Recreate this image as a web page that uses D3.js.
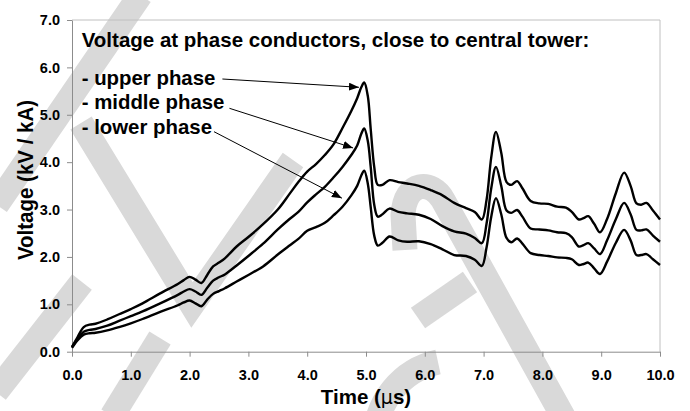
<!DOCTYPE html>
<html><head><meta charset="utf-8">
<script src="https://cdn.jsdelivr.net/npm/d3@7"></script>
<style>
body{margin:0;background:#fff}
svg{display:block}
text{font-family:"Liberation Sans",Arial,sans-serif;font-weight:bold;fill:#000}
</style>
</head><body>
<svg id="c" width="690" height="411"></svg>
<script>
// ---- data ----
const time = [0, 0.1, 0.2, 0.3, 0.4, 0.6, 0.8, 1.0, 1.2, 1.5,
  1.8, 1.9, 2.0, 2.1, 2.2, 2.3, 2.4, 2.5, 2.6, 2.8,
  3.0, 3.25, 3.5, 3.7, 3.85, 4.0, 4.15, 4.3, 4.45, 4.6,
  4.75, 4.85, 4.92, 4.97, 5.03, 5.08, 5.14, 5.2, 5.28, 5.4,
  5.55, 5.7, 5.9, 6.1, 6.3, 6.5, 6.7, 6.85, 6.97, 7.05,
  7.13, 7.21, 7.3, 7.39, 7.47, 7.57, 7.66, 7.8, 7.95, 8.1,
  8.25, 8.4, 8.5, 8.62, 8.7, 8.78, 8.88, 8.98, 9.1, 9.25,
  9.39, 9.5, 9.6, 9.68, 9.77, 9.88, 10.0];
const upper = [0.10, 0.32, 0.52, 0.57, 0.59, 0.68, 0.79, 0.90, 1.02, 1.23,
  1.43, 1.51, 1.58, 1.52, 1.45, 1.62, 1.80, 1.88, 1.97, 2.22,
  2.42, 2.69, 3.00, 3.33, 3.58, 3.80, 3.96, 4.15, 4.38, 4.72,
  5.08, 5.35, 5.58, 5.68, 5.40, 4.70, 3.90, 3.52, 3.52, 3.62,
  3.58, 3.55, 3.50, 3.41, 3.30, 3.14, 3.03, 2.95, 2.79, 3.20,
  4.10, 4.64, 4.20, 3.58, 3.52, 3.60, 3.45, 3.18, 3.13, 3.12,
  3.06, 3.04, 2.95, 2.79, 2.82, 2.86, 2.70, 2.52, 2.80, 3.35,
  3.78, 3.50, 3.13, 3.10, 3.14, 2.98, 2.79];
const middle = [0.10, 0.28, 0.42, 0.46, 0.48, 0.55, 0.65, 0.75, 0.85, 1.02,
  1.20, 1.27, 1.32, 1.27, 1.20, 1.35, 1.50, 1.57, 1.63, 1.82,
  2.02, 2.28, 2.58, 2.80, 2.95, 3.15, 3.32, 3.48, 3.68, 3.90,
  4.15, 4.35, 4.60, 4.71, 4.45, 3.90, 3.10, 2.85, 2.90, 3.02,
  2.95, 2.92, 2.89, 2.80, 2.65, 2.54, 2.49, 2.40, 2.29, 2.70,
  3.45, 3.90, 3.50, 2.98, 2.93, 2.99, 2.85, 2.60, 2.58, 2.56,
  2.52, 2.50, 2.42, 2.22, 2.25, 2.29, 2.18, 2.06, 2.35, 2.80,
  3.14, 2.90, 2.57, 2.56, 2.58, 2.45, 2.32];
const lower = [0.08, 0.25, 0.36, 0.39, 0.40, 0.45, 0.52, 0.60, 0.69, 0.84,
  0.98, 1.04, 1.08, 1.02, 0.96, 1.10, 1.22, 1.28, 1.34, 1.48,
  1.62, 1.80, 2.05, 2.24, 2.38, 2.55, 2.63, 2.72, 2.88, 3.06,
  3.30, 3.50, 3.72, 3.82, 3.55, 3.05, 2.45, 2.24, 2.30, 2.43,
  2.35, 2.32, 2.33, 2.27, 2.16, 2.04, 2.02, 1.94, 1.81, 2.20,
  2.85, 3.24, 2.90, 2.40, 2.31, 2.39, 2.28, 2.08, 2.04, 2.02,
  1.99, 1.98, 1.95, 1.83, 1.85, 1.88, 1.76, 1.64, 1.90, 2.30,
  2.57, 2.35, 2.04, 2.04, 2.06, 1.95, 1.83];
const xTicks = [0, 1, 2, 3, 4, 5, 6, 7, 8, 9, 10];
const yTicks = [0, 1, 2, 3, 4, 5, 6, 7];
const titleText = "Voltage at phase conductors, close to central tower:";
const seriesLabels = ["- upper phase", "- middle phase", "- lower phase"];
const arrowTime = [4.88, 4.78, 4.59];
const arrowValue = [5.58, 4.30, 3.24];
const xTitle = ["Time (", "\u03bc", "s)"];
const yTitle = "Voltage (kV / kA)";

// ---- drawing ----
const svg = d3.select("#c");
const x = d3.scaleLinear().domain([0, 10]).range([72, 660]);
const y = d3.scaleLinear().domain([0, 7]).range([351.7, 20]);

svg.append("rect").attr("width", 690).attr("height", 411).attr("fill", "#fff");

// watermark bands (background decoration)
const wm = svg.append("g").attr("fill", "none").attr("stroke", "#d9d9d9")
  .attr("stroke-width", 25).attr("stroke-linejoin", "miter").attr("stroke-miterlimit", 10);
wm.append("path").attr("d", "M140.4,-5 L-3.4,205");
wm.append("path").attr("d", "M81,123 L192,305 L293,160");
wm.append("path").attr("d", "M82,282 L-4,392");
wm.append("path").attr("d", "M160,338 L112,416");
wm.append("path").attr("d", "M565,420 L443,200 C432,180 405,180 403,215 L405,250");
wm.append("path").attr("d", "M418,318 L470,282");
wm.append("path").attr("d", "M375,440 A80,80 0 0 1 438,362");

// plot frame (top / right)
svg.append("path").attr("d", `M${x(0)},${y(7)}H${x(10)}V${y(0)}`)
  .attr("fill", "none").attr("stroke", "#c0c0c0").attr("stroke-width", 1);

// axes
const fmt = d3.format(".1f");
const gx = svg.append("g").attr("transform", `translate(0,${y(0)})`)
  .call(d3.axisBottom(x).tickValues(xTicks).tickFormat(fmt).tickSize(5).tickSizeOuter(0));
gx.selectAll("text").attr("y", 28.3).attr("dy", null).style("font-size", "14.5px");
const gy = svg.append("g").attr("transform", `translate(${x(0)},0)`)
  .call(d3.axisLeft(y).tickValues(yTicks).tickFormat(fmt).tickSize(5).tickSizeOuter(0));
gy.selectAll("text").attr("x", -12).style("font-size", "14.5px");
svg.selectAll(".domain").attr("stroke", "#8c8c8c");
svg.selectAll(".tick line").attr("stroke", "#8c8c8c");
svg.selectAll(".tick text").attr("fill", "#000").style("font-family", '"Liberation Sans",Arial,sans-serif').style("font-weight", "bold");

// series
[upper, middle, lower].forEach(series => {
  const ln = d3.line().x((d, i) => x(time[i])).y(d => y(d)).curve(d3.curveCatmullRom.alpha(0.5));
  svg.append("path").attr("d", ln(series)).attr("fill", "none")
    .attr("stroke", "#000").attr("stroke-width", 2.4).attr("stroke-linejoin", "round");
});

// title and legend texts
svg.append("text").attr("x", 81.7).attr("y", 46.7).style("font-size", "20.5px").text(titleText);
const legendBase = [85, 109.3, 134.3];
const arrowDx = [7, 5, 2];
const arrowDy = [-6, -1, -2.6];

svg.append("defs").append("marker").attr("id", "ah")
  .attr("viewBox", "0 0 10 8").attr("refX", 10).attr("refY", 4)
  .attr("markerWidth", 10).attr("markerHeight", 8).attr("markerUnits", "userSpaceOnUse")
  .attr("orient", "auto").append("path").attr("d", "M0,0 L10,4 L0,8 Z").attr("fill", "#000");

seriesLabels.forEach((lab, i) => {
  const t = svg.append("text").attr("x", 81.7).attr("y", legendBase[i]).style("font-size", "20.4px").text(lab);
  const bb = t.node().getBBox();
  svg.append("line")
    .attr("x1", bb.x + bb.width + arrowDx[i]).attr("y1", legendBase[i] + arrowDy[i])
    .attr("x2", x(arrowTime[i])).attr("y2", y(arrowValue[i]))
    .attr("stroke", "#000").attr("stroke-width", 1).attr("marker-end", "url(#ah)");
});

// axis titles
const xt = svg.append("text").attr("x", 366).attr("y", 404).attr("text-anchor", "middle").style("font-size", "20.5px");
xt.append("tspan").text(xTitle[0]);
xt.append("tspan").style("font-weight", "normal").style("font-family", '"DejaVu Sans",sans-serif').style("font-size", "19px").text(xTitle[1]);
xt.append("tspan").text(xTitle[2]);
svg.append("text").attr("transform", "translate(33,180) rotate(-90) scale(1,1.12)")
  .attr("text-anchor", "middle").style("font-size", "20.5px").text(yTitle);
</script>
</body></html>
